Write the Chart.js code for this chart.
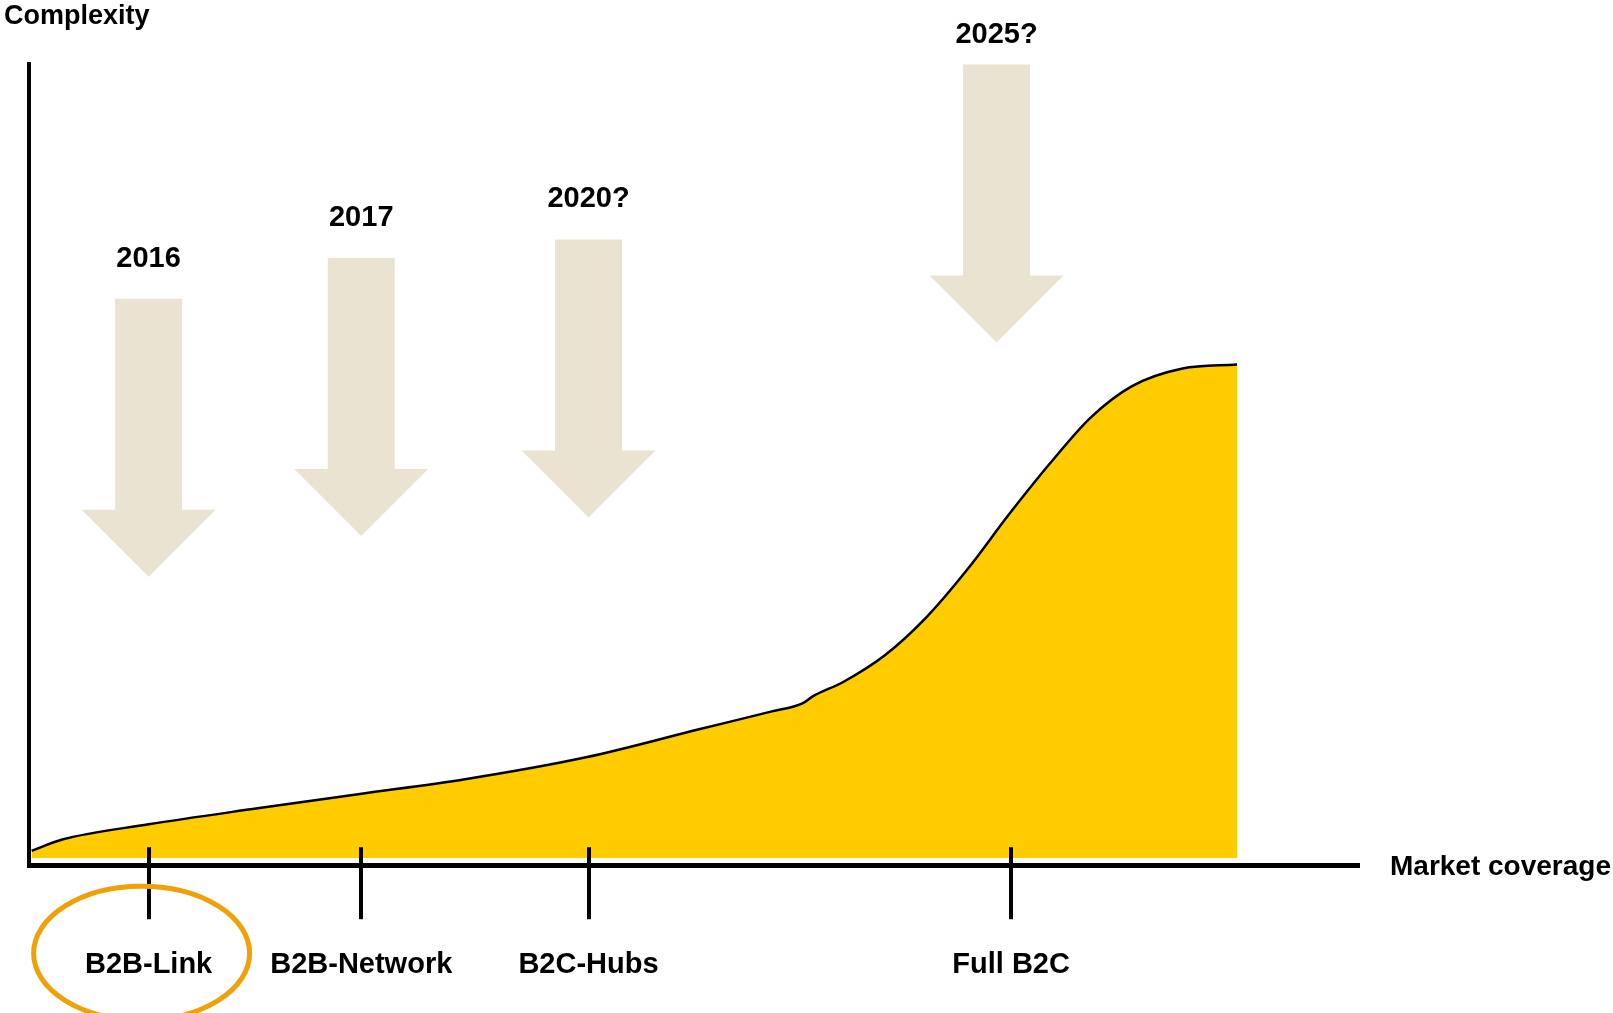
<!DOCTYPE html>
<html><head><meta charset="utf-8">
<script src="https://cdn.jsdelivr.net/npm/chart.js@4/dist/chart.umd.min.js"></script>
<style>html,body{margin:0;padding:0;background:#fff;overflow:hidden;} #wrap{width:1613px;height:1013px;position:relative;}</style>
</head><body><div id="wrap"><canvas id="c" width="1613" height="1013"></canvas></div>
<script>
// ---- data ----
const categories = ['B2B-Link', 'B2B-Network', 'B2C-Hubs', 'Full B2C'];
const categoryPositions = [9.0, 25.0, 42.1, 73.9];
const highlightedCategory = 'B2B-Link';
const curveX = [0.2, 2.5, 9.0, 17.2, 24.9, 32.7, 42.0, 50.5, 55.9, 58.2, 59.0, 61.3, 64.4, 67.5, 70.6, 73.7, 76.8, 79.9, 83.0, 86.8, 90.9];
const curveY = [1.8, 3.2, 5.1, 7.1, 8.9, 10.7, 13.5, 17.0, 19.2, 20.2, 21.1, 22.9, 26.2, 30.9, 36.9, 43.7, 50.1, 55.9, 59.8, 62.0, 62.5];
const arrowYears = ['2016', '2017', '2020?', '2025?'];
const arrowX = [9.0, 25.0, 42.1, 72.8];
const arrowTip = [36.0, 41.1, 43.4, 65.25];
const xTitle = 'Market coverage';
const yTitle = 'Complexity';

const FONT = '"Liberation Sans", Arial, sans-serif';

const decorPlugin = {
  id: 'decor',
  afterDraw(chart) {
    const ctx = chart.ctx, xs = chart.scales.x, ys = chart.scales.y, ca = chart.chartArea;
    ctx.save();
    // tick marks above the axis
    ctx.strokeStyle = '#000'; ctx.lineWidth = 4;
    categoryPositions.forEach(v => {
      const px = Math.round(xs.getPixelForValue(v));
      ctx.beginPath(); ctx.moveTo(px, ca.bottom - 18); ctx.lineTo(px, ca.bottom + 2); ctx.stroke();
    });
    // arrows
    const shaftW = 67, headW = 134, headH = 67, shaftL = 211;
    arrowX.forEach((v, i) => {
      const cx = xs.getPixelForValue(v);
      const tip = ys.getPixelForValue(arrowTip[i]);
      const base = tip - headH, top = base - shaftL;
      ctx.fillStyle = '#EAE3D2';
      ctx.beginPath();
      ctx.moveTo(cx - shaftW / 2, top);
      ctx.lineTo(cx + shaftW / 2, top);
      ctx.lineTo(cx + shaftW / 2, base);
      ctx.lineTo(cx + headW / 2, base);
      ctx.lineTo(cx, tip);
      ctx.lineTo(cx - headW / 2, base);
      ctx.lineTo(cx - shaftW / 2, base);
      ctx.closePath();
      ctx.fill();
      ctx.fillStyle = '#000';
      ctx.font = 'bold 29px ' + FONT;
      ctx.textAlign = 'center'; ctx.textBaseline = 'middle';
      ctx.fillText(arrowYears[i], cx, Math.max(top - 40, 35));
    });
    // axis titles
    ctx.fillStyle = '#000';
    ctx.textAlign = 'left'; ctx.textBaseline = 'middle';
    ctx.font = 'bold 27px ' + FONT;
    ctx.fillText(yTitle, ca.left - 25, 17);
    ctx.font = 'bold 28px ' + FONT;
    ctx.fillText(xTitle, ca.right + 32, ca.bottom + 2);
    // highlight ellipse
    const hi = categories.indexOf(highlightedCategory);
    if (hi >= 0) {
      const px = xs.getPixelForValue(categoryPositions[hi]);
      ctx.strokeStyle = '#F2A007'; ctx.lineWidth = 5;
      ctx.beginPath();
      ctx.ellipse(px - 7, ca.bottom + 88, 108, 67, 0, 0, Math.PI * 2);
      ctx.stroke();
    }
    ctx.restore();
  }
};

new Chart(document.getElementById('c'), {
  type: 'line',
  data: {
    datasets: [{
      data: curveX.map((x, i) => ({ x: x, y: curveY[i] })),
      borderColor: '#000',
      borderWidth: 2.5,
      backgroundColor: '#FFCC00',
      fill: { value: 0.9 },
      pointRadius: 0,
      cubicInterpolationMode: 'monotone'
    }]
  },
  options: {
    responsive: false,
    animation: false,
    devicePixelRatio: 1,
    layout: { padding: { left: 29, right: 255, top: 64, bottom: 3 } },
    plugins: { legend: { display: false }, tooltip: { enabled: false } },
    scales: {
      x: {
        type: 'linear', min: 0, max: 100,
        afterBuildTicks: s => { s.ticks = categoryPositions.map(v => ({ value: v })); },
        grid: { display: true, drawOnChartArea: false, drawTicks: true, tickLength: 54, lineWidth: 4, color: '#000' },
        border: { display: true, width: 5, color: '#000' },
        ticks: {
          autoSkip: false, maxRotation: 0, minRotation: 0, padding: 28, color: '#000',
          font: { family: FONT, size: 29, weight: 'bold' },
          callback: (val, idx) => categories[idx]
        }
      },
      y: {
        type: 'linear', min: 0, max: 100,
        grid: { display: false, drawTicks: false },
        border: { display: true, width: 4, color: '#000' },
        ticks: { display: false }
      }
    }
  },
  plugins: [decorPlugin]
});
</script>
</body></html>
